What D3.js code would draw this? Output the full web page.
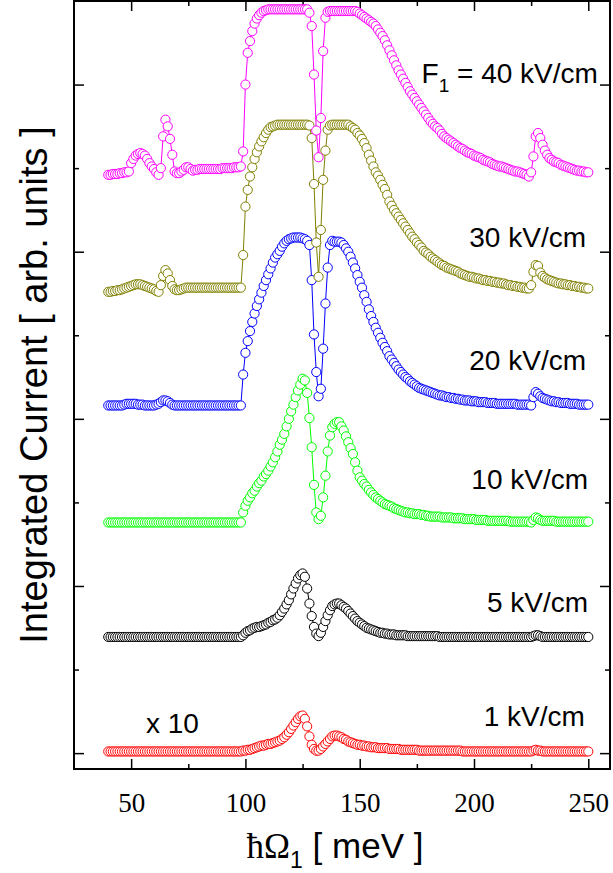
<!DOCTYPE html>
<html lang="en">
<head>
<meta charset="utf-8">
<title>Integrated current vs photon energy</title>
<script src="https://cdn.jsdelivr.net/npm/d3@7"></script>
<style>
  body { margin: 0; background: #fff; }
  .tick text { font-family: "Liberation Serif", "Times New Roman", serif; font-size: 27px; fill: #000; }
  .tick line { stroke: #000; stroke-width: 1.5; }
  .lbl { font-family: "Liberation Sans", Arial, sans-serif; font-size: 28px; fill: #000; }
</style>
</head>
<body>
<script>
// photon energy grid (meV)
var energy = [
  40,41,42,43,44,45,46,47,48,49,50,51,52,53,54,55,56,57,58,59,
  60,61,62,63,64,65,66,67,68,69,70,71,72,73,74,75,76,77,78,79,
  80,81,82,83,84,85,86,87,88,89,90,91,92,93,94,95,96,97,98,99,
  100,101,102,103,104,105,106,107,108,109,110,111,112,113,114,115,116,117,118,119,
  120,121,122,123,124,125,126,127,128,129,130,131,132,133,134,135,136,137,138,139,
  140,141,142,143,144,145,146,147,148,149,150,151,152,153,154,155,156,157,158,159,
  160,161,162,163,164,165,166,167,168,169,170,171,172,173,174,175,176,177,178,179,
  180,181,182,183,184,185,186,187,188,189,190,191,192,193,194,195,196,197,198,199,
  200,201,202,203,204,205,206,207,208,209,210,211,212,213,214,215,216,217,218,219,
  220,221,222,223,224,225,226,227,228,229,230,231,232,233,234,235,236,237,238,239,
  240,241,242,243,244,245,246,247,248,249,250
];

// field strengths, curve colours and vertical offsets of the stacked curves (arb. units)
var fieldNames = ["1 kV/cm", "5 kV/cm", "10 kV/cm", "20 kV/cm", "30 kV/cm", "F1 = 40 kV/cm"];
var colors = ["#ff0000", "#000000", "#00ff00", "#0000ff", "#808000", "#ff00ff"];
var offsets = [2, 139, 276, 416, 556, 700];

// integrated current, each curve relative to its own baseline (1 kV/cm is x 10)
var current1 = [
  0,0,0,0,0,0,0,0,0,0, 0,0,0,0,0,0,0,0,0,0,
  0,0,0,0,0,0,0,0,0,0, 0,0,0,0,0,0,0,0,0,0,
  0,0,0,0,0,0,0,0,0,0, 0,0,0,0,0,0,0,0,0,1,
  1,2,2,3,4,5,6,7,7,8, 9,9,10,11,12,13,15,17,20,23,
  27,31,35,39,42,43,39,30,18,8, 3,1,1,3,6,9,12,15,18,19,
  19,18,17,15,14,12,11,10,9,8, 8,7,7,6,6,5,5,5,4,4,
  4,4,4,3,3,3,3,3,2,2, 2,2,2,2,2,2,1,1,1,1,
  1,1,1,1,1,1,1,1,1,1, 1,1,1,1,1,0,0,0,0,0,
  0,0,0,0,0,0,0,0,0,0, 0,0,0,0,0,0,0,0,0,0,
  0,0,0,0,0,0,1,2,1,1, 0,0,0,0,0,0,0,0,0,0,
  0,0,0,0,0,0,0,0,0,0,0
];
var current5 = [
  0,0,0,0,0,0,0,0,0,0, 0,0,0,0,0,0,0,0,0,0,
  0,0,0,0,0,0,0,0,0,0, 0,0,0,0,0,0,0,0,0,0,
  0,0,0,0,0,0,0,0,0,0, 0,0,0,0,0,0,0,0,0,2,
  5,7,8,10,11,12,12,13,14,15, 17,18,20,21,23,26,30,34,39,44,
  51,58,64,70,74,76,72,58,40,25, 12,4,1,5,12,19,26,32,37,39,
  40,40,38,36,34,31,28,25,22,19, 17,15,13,11,10,9,8,7,6,5,
  5,4,4,3,3,3,2,2,2,2, 2,1,1,1,1,1,1,1,1,1,
  1,1,1,1,1,0,0,0,0,0, 0,0,0,0,0,0,0,0,0,0,
  0,0,0,0,0,0,0,0,0,0, 0,0,0,0,0,0,0,0,0,0,
  0,0,0,0,0,0,1,2,2,1, 0,0,0,0,0,0,0,0,0,0,
  0,0,0,0,0,0,0,0,0,0,0
];
var current10 = [
  0,0,0,0,0,0,0,0,0,0, 0,0,0,0,0,0,0,0,0,0,
  0,0,0,0,0,0,0,0,0,0, 0,0,0,0,0,0,0,0,0,0,
  0,0,0,0,0,0,0,0,0,0, 0,0,0,0,0,0,0,0,0,12,
  20,26,30,35,38,43,47,50,55,58, 62,67,72,78,85,93,99,106,115,124,
  133,141,150,158,165,172,170,155,125,90, 45,12,4,8,30,56,85,104,114,118,
  120,120,115,110,103,96,89,82,72,62, 54,50,46,43,39,36,33,30,28,26,
  24,22,21,20,19,17,16,15,14,13, 12,12,11,11,10,10,10,9,9,8,
  8,7,7,7,7,7,6,6,6,6, 6,5,5,5,5,5,4,4,4,4,
  4,3,3,3,3,3,2,2,2,2, 2,2,2,2,2,2,1,1,1,1,
  1,1,1,1,1,0,3,6,5,3, 2,2,2,2,2,2,1,1,1,1,
  1,1,1,1,1,1,1,1,1,1,1
];
var current20 = [
  0,0,0,0,0,0,0,1,2,2, 2,2,2,1,1,1,0,0,0,0,
  0,1,2,4,6,6,5,3,1,0, 0,0,0,0,0,0,0,0,0,0,
  0,0,0,0,0,0,0,0,0,0, 0,0,0,0,0,0,0,0,0,37,
  63,77,89,100,110,119,127,135,143,150, 157,164,171,177,181,185,190,194,197,199,
  200,201,201,201,201,200,199,197,192,150, 85,40,11,20,68,122,165,192,197,196,
  196,196,195,192,188,184,178,171,164,156, 148,141,132,124,115,107,100,93,87,81,
  75,70,65,59,55,51,47,43,40,37, 34,32,29,27,25,23,21,20,19,18,
  17,16,15,14,13,12,12,11,10,10, 9,9,8,8,7,7,6,6,6,5,
  5,5,4,4,4,4,3,3,3,3, 2,2,2,2,2,2,2,2,2,1,
  1,1,1,1,1,0,10,16,14,11, 9,8,7,6,5,5,4,4,3,3,
  3,3,2,2,2,2,1,1,1,1,1
];
var current30 = [
  -4,-4,-3,-3,-2,-2,-1,0,1,2, 3,4,5,5,5,4,3,2,1,0,
  -1,-3,-4,4,15,22,18,10,3,-1, -2,-2,-1,0,1,1,1,1,1,1,
  1,1,1,1,1,1,1,1,1,1, 1,1,1,1,1,1,1,1,1,40,
  98,118,134,145,155,163,170,176,181,186, 190,193,194,195,196,196,196,196,196,196,
  196,196,196,196,196,196,196,196,195,180, 125,55,14,70,130,165,190,195,196,196,
  196,196,196,196,196,196,194,192,190,186, 183,179,174,168,160,153,146,139,135,130,
  124,119,112,104,99,94,90,86,82,78, 74,70,66,62,59,55,52,49,45,43,
  41,38,36,34,32,30,28,27,25,24, 23,22,21,20,18,17,16,15,14,14,
  13,12,12,11,10,10,9,9,8,8, 7,7,6,6,5,4,4,3,3,2,
  2,1,1,0,0,4,20,28,27,19, 15,13,11,10,9,8,7,6,6,5,
  5,4,4,3,3,2,2,1,1,0,0
];
var current40 = [
  -8,-8,-7,-7,-7,-6,-6,-5,-5,-4, 6,11,15,17,18,17,15,11,6,2,
  -1,-5,-8,0,38,58,50,35,16,-4, -6,-6,-4,-2,1,1,-1,-3,-2,-2,
  -1,-1,-1,-1,-1,-1,-1,-1,-1,-1, 0,0,0,0,0,1,1,1,2,20,
  100,138,152,164,173,179,183,186,188,189, 190,190,190,190,190,190,190,190,190,190,
  190,190,190,190,190,190,190,190,186,170, 112,45,13,60,140,180,187,188,188,188,
  188,188,188,188,188,188,188,188,188,187, 185,183,181,179,177,175,173,170,166,162,
  158,153,147,141,135,129,123,117,112,107, 102,97,92,88,84,80,76,72,68,64,
  60,56,53,50,48,45,41,38,36,34, 32,30,28,26,24,23,21,19,18,17,
  15,14,13,12,10,9,8,7,5,4, 3,2,2,1,0,-1,-2,-3,-4,-4,
  -5,-6,-7,-8,-10,-5,14,38,42,36, 28,21,16,12,10,8,7,6,4,3,
  2,1,0,-1,-2,-3,-3,-4,-4,-5,-5
];
var currents = [current1, current5, current10, current20, current30, current40];

var xMajor = [50, 100, 150, 200, 250];
var xMinor = [75, 125, 175, 225];
var yMajor = [0, 200, 400, 600, 800];
var yMinor = [100, 300, 500, 700];

var W = 613, H = 873;
var plotL = 74, plotR = 610, plotT = 1, plotB = 769;

var svg = d3.select("body").append("svg")
  .attr("width", W)
  .attr("height", H);

var x = d3.scaleLinear().domain([25, 259.5]).range([plotL, plotR]);
var y = d3.scaleLinear().domain([-19, 900]).range([plotB, plotT]);

// axes (ticks point inward)
function addAxis(axis, tx, ty) {
  var g = svg.append("g")
    .attr("transform", "translate(" + tx + "," + ty + ")")
    .call(axis);
  g.select(".domain").remove();
  return g;
}
addAxis(d3.axisBottom(x).tickValues(xMajor).tickSize(-10).tickPadding(24).tickFormat(d3.format("d")), 0, plotB);
addAxis(d3.axisBottom(x).tickValues(xMinor).tickSize(-5).tickFormat(""), 0, plotB);
addAxis(d3.axisTop(x).tickValues(xMajor).tickSize(-10).tickFormat(""), 0, plotT);
addAxis(d3.axisTop(x).tickValues(xMinor).tickSize(-5).tickFormat(""), 0, plotT);
addAxis(d3.axisLeft(y).tickValues(yMajor).tickSize(-10).tickFormat(""), plotL, 0);
addAxis(d3.axisLeft(y).tickValues(yMinor).tickSize(-5).tickFormat(""), plotL, 0);
addAxis(d3.axisRight(y).tickValues(yMajor).tickSize(-10).tickFormat(""), plotR, 0);
addAxis(d3.axisRight(y).tickValues(yMinor).tickSize(-5).tickFormat(""), plotR, 0);

svg.append("rect")
  .attr("x", plotL).attr("y", plotT)
  .attr("width", plotR - plotL).attr("height", plotB - plotT)
  .attr("fill", "none").attr("stroke", "#000").attr("stroke-width", 2);

// curves
currents.forEach(function(vals, k) {
  var pts = vals.map(function(v, i) { return [energy[i], v + offsets[k]]; });
  var g = svg.append("g");
  g.append("path")
    .datum(pts)
    .attr("fill", "none")
    .attr("stroke", colors[k])
    .attr("stroke-width", 1)
    .attr("d", d3.line().x(function(d) { return x(d[0]); }).y(function(d) { return y(d[1]); }));
  g.selectAll("circle")
    .data(pts)
    .enter()
    .append("circle")
    .attr("cx", function(d) { return x(d[0]); })
    .attr("cy", function(d) { return y(d[1]); })
    .attr("r", 4.6)
    .attr("fill", "#fff")
    .attr("stroke", colors[k])
    .attr("stroke-width", 1);
});

// curve labels, placed in data coordinates
var labelPos = [[248.5, 33], [249.9, 169], [249.9, 316], [249, 459], [249, 606], [254.2, 802]];
fieldNames.forEach(function(name, k) {
  var t = svg.append("text")
    .attr("class", "lbl")
    .attr("text-anchor", "end")
    .attr("x", x(labelPos[k][0]))
    .attr("y", y(labelPos[k][1]));
  if (name.indexOf("F1") === 0) {
    t.append("tspan").text("F");
    t.append("tspan").style("font-size", "19px").attr("dy", 9).text("1");
    t.append("tspan").attr("dy", -9).text(name.slice(2));
  } else {
    t.text(name);
  }
});
svg.append("text")
  .attr("class", "lbl")
  .attr("x", x(56.5))
  .attr("y", y(24))
  .text("x 10");

// axis titles
var xt = svg.append("text")
  .attr("class", "lbl")
  .style("font-size", "35px")
  .attr("text-anchor", "middle")
  .attr("x", 335)
  .attr("y", 858);
xt.append("tspan").style("font-family", "'Liberation Serif', serif").text("\u0127\u03A9");
xt.append("tspan").style("font-size", "23px").attr("dy", 10).text("1");
xt.append("tspan").attr("dy", -10).text(" [ meV ]");

svg.append("text")
  .attr("class", "lbl")
  .style("font-size", "38px")
  .attr("text-anchor", "middle")
  .attr("transform", "translate(47,385) rotate(-90)")
  .text("Integrated Current [ arb. units ]");
</script>
</body>
</html>
